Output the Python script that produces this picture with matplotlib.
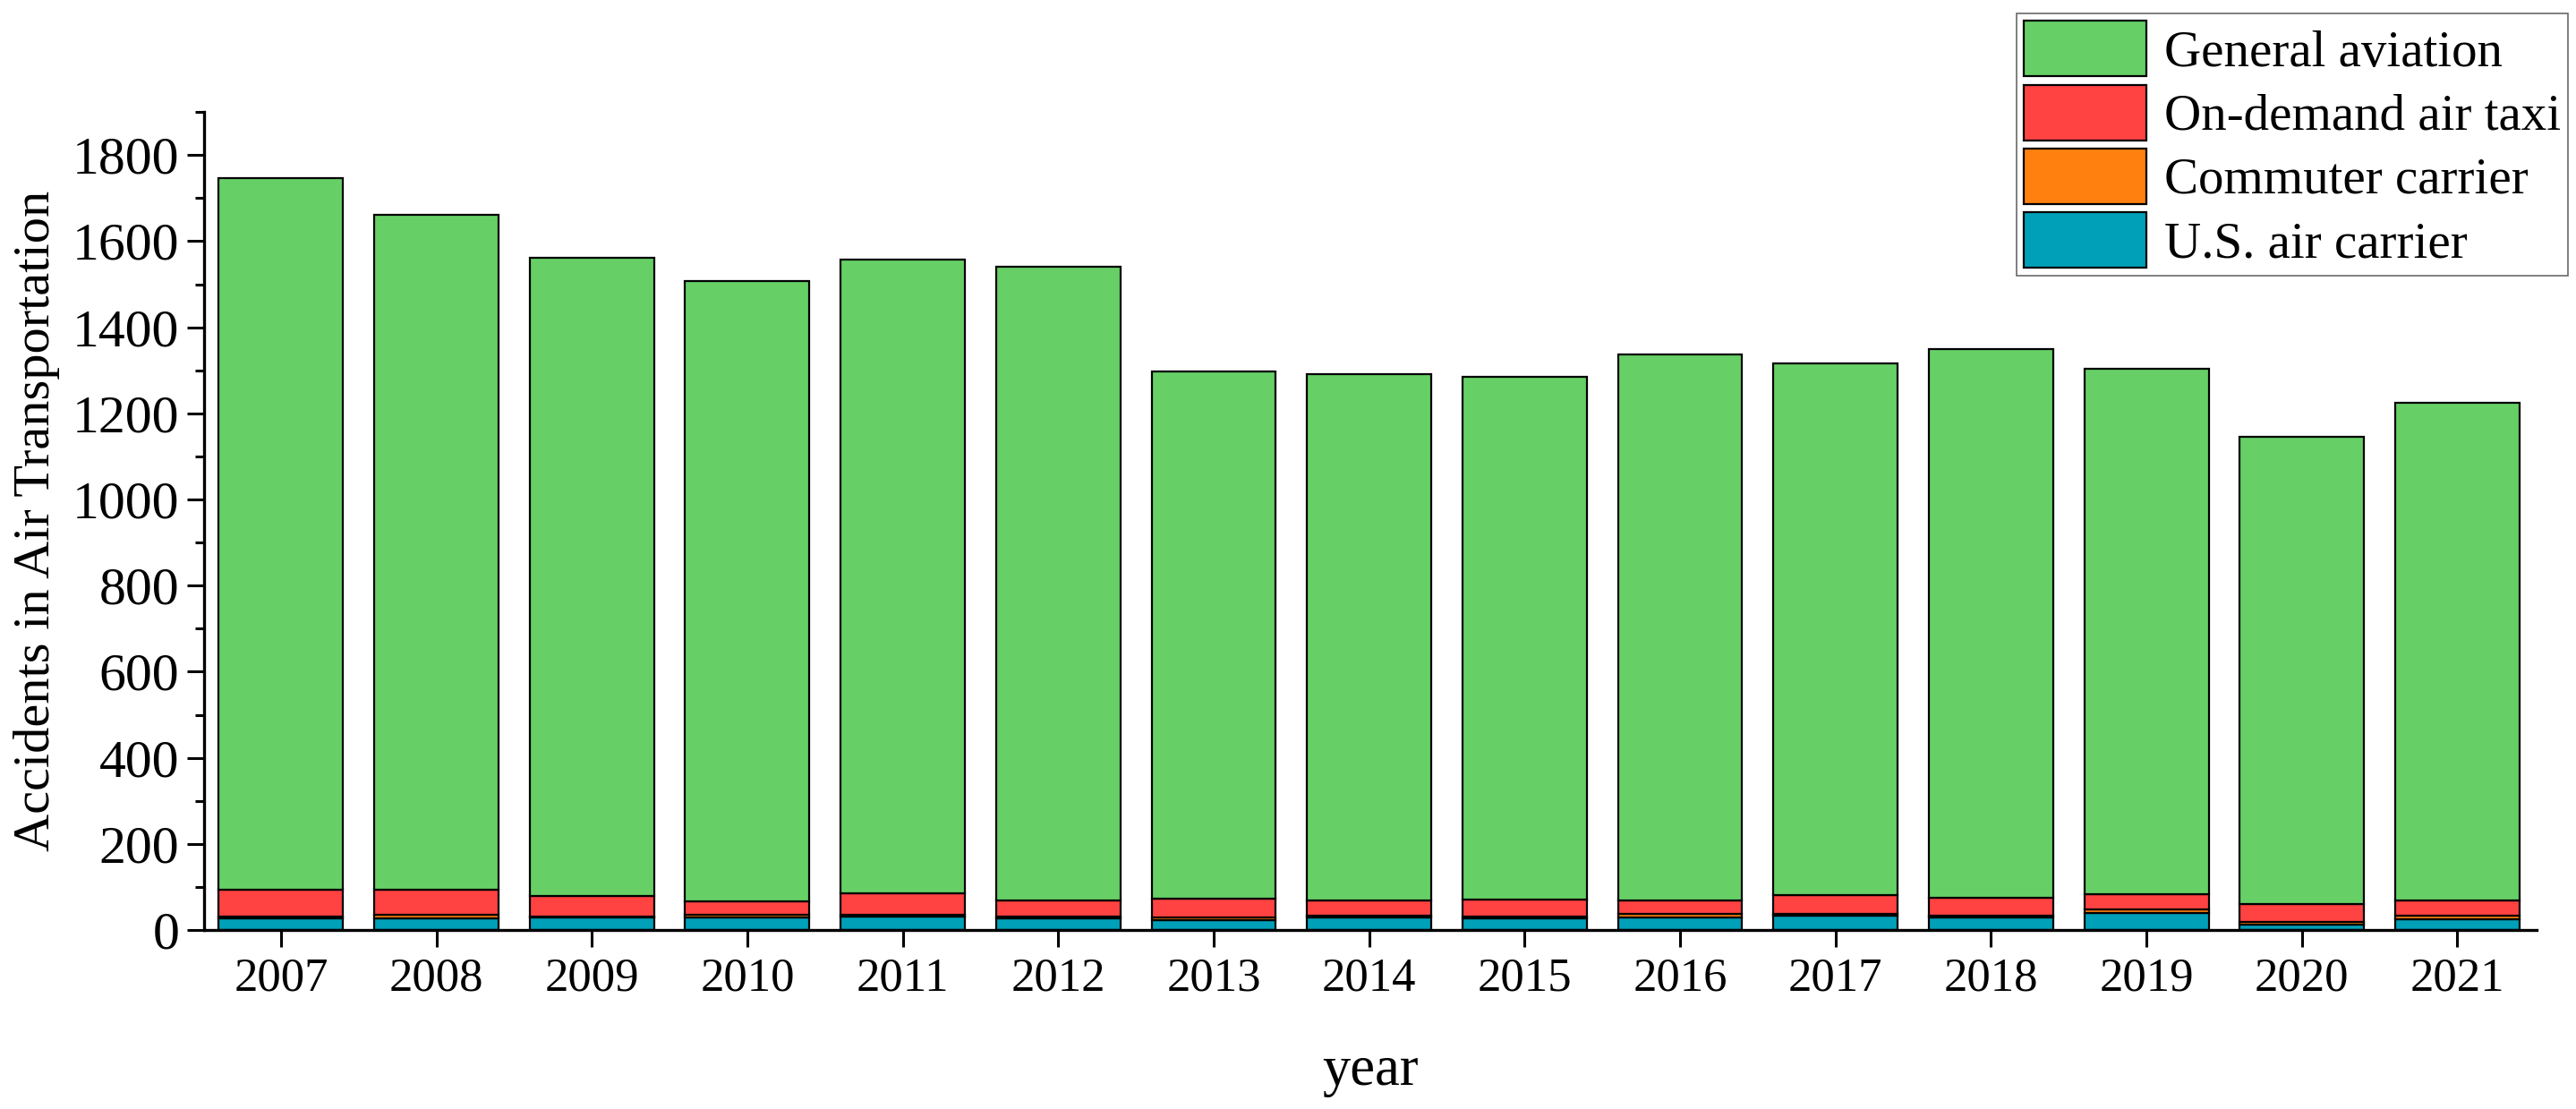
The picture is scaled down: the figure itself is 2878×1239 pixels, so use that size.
import matplotlib
matplotlib.use('Agg')
import matplotlib.pyplot as plt
from matplotlib.ticker import MultipleLocator
import numpy as np

# Data
years = ['2007', '2008', '2009', '2010', '2011', '2012', '2013', '2014',
         '2015', '2016', '2017', '2018', '2019', '2020', '2021']
us_air_carrier = [28, 28, 30, 29, 31, 27, 22, 29, 28, 30, 33, 30, 40, 12, 24]
commuter_carrier = [3, 7, 2, 6, 4, 4, 7, 4, 4, 8, 4, 4, 8, 6, 10]
on_demand_taxi = [62, 58, 47, 31, 50, 38, 43, 35, 39, 30, 45, 40, 35, 42, 35]
general_aviation = [1653, 1568, 1482, 1441, 1473, 1471, 1225, 1224, 1213,
                    1269, 1235, 1275, 1220, 1085, 1156]

labels = ['U.S. air carrier', 'Commuter carrier', 'On-demand air taxi', 'General aviation']
colors = ['#00a0b8', '#ff800e', '#ff4242', '#66d066']

plt.rcParams['font.family'] = ['Liberation Serif', 'DejaVu Serif']

fig = plt.figure(figsize=(28.78, 12.39), dpi=100)
ax = fig.add_axes([0.0792, 0.1614, 0.9847 - 0.0792, 0.899 - 0.1614])

x = np.arange(len(years))
series = [us_air_carrier, commuter_carrier, on_demand_taxi, general_aviation]
bottom = np.zeros(len(years))
bars = []
for vals, col, lab in zip(series, colors, labels):
    b = ax.bar(x, vals, 0.8, bottom=bottom, color=col, edgecolor='black',
               linewidth=1.6, label=lab)
    bars.append(b)
    bottom += np.array(vals)

ax.set_xlim(-0.495, 14.51)
ax.set_ylim(0, 1900)
ax.set_xticks(x)
ax.set_xticklabels(years)
ax.yaxis.set_major_locator(MultipleLocator(200))
ax.yaxis.set_minor_locator(MultipleLocator(100))

for s in ['top', 'right']:
    ax.spines[s].set_visible(False)
for s in ['left', 'bottom']:
    ax.spines[s].set_linewidth(2.4)

ax.tick_params(axis='both', which='major', direction='out', length=14, width=2.2, pad=8)
ax.tick_params(axis='x', labelsize=38)
ax.tick_params(axis='y', labelsize=43, pad=6)
ax.tick_params(axis='y', which='minor', direction='out', length=7, width=2.2)

ax.set_xlabel('year', fontsize=45, labelpad=36)
ax.set_ylabel('Accidents in Air Transportation', fontsize=42, labelpad=10)

handles = bars[::-1]
leg = fig.legend(handles, labels[::-1], loc='upper right',
                 bbox_to_anchor=(0.997, 0.988), bbox_transform=fig.transFigure,
                 borderaxespad=0, fontsize=41, fancybox=False, frameon=True,
                 handlelength=2.4, handleheight=1.3, labelspacing=0.16,
                 handletextpad=0.35, borderpad=0.15)
leg.get_frame().set_edgecolor('#444444')
leg.get_frame().set_linewidth(1.2)

fig.savefig('out.png', dpi=100)
